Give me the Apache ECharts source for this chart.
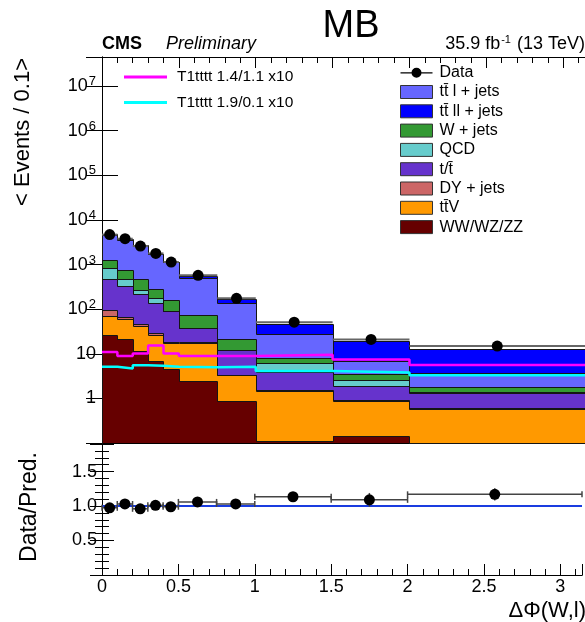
<!DOCTYPE html>
<html>
<head>
<meta charset="utf-8">
<script src="https://cdn.jsdelivr.net/npm/echarts@6/dist/echarts.min.js"></script>
<style>
html, body { margin: 0; padding: 0; background: #fff; }
#chart { width: 585px; height: 622px; }
</style>
</head>
<body>
<div id="chart"></div>
<script>
// bin edges of dPhi(W,l)
var binEdges = [0, 0.1, 0.2, 0.3, 0.4, 0.5, 0.75, 1, 1.5, 2, Math.PI];

// backgrounds, stacked bottom -> top
var wwWzZz   = [27, 21, 11.5, 6.9, 4.5, 2.4, 0.87, 0.11, 0.14, 0];
var ttV      = [43, 38, 30, 19, 13, 15, 2.4, 1.35, 0.73, 0.59];
var dyJets   = [24, 9, 6, 2.8, 0.8, 0.8, 0.1, 0.05, 0.03, 0.01];
var singleT  = [372, 262, 167, 106, 72, 20, 8.7, 2.3, 1.0, 0.74];
var qcd      = [385, 136, 54, 40, 2, 0.5, 0.1, 2.3, 0.68, 0.02];
var wJets    = [392, 275, 197, 103, 70, 37, 9.8, 2.1, 0.88, 0.47];
var ttLJets  = [3457, 2859, 2184, 1442, 958, 434, 118, 19, 3.45, 1.81];
var ttLLJets = [120, 90, 60, 40, 30, 35, 32, 18.4, 12.4, 9];

var dataCounts = [4700, 3800, 2600, 1780, 1140, 573, 175, 51, 21, 14.9];
var signal1411 = [11, 8.9, 10.2, 15.4, 10.2, 8.9, 8.9, 9.5, 7.4, 5.6];
var signal1901 = [5.1, 4.7, 5.5, 5.4, 5.1, 5.0, 5.1, 4.1, 3.8, 3.3];

var ratio    = [0.975, 1.03, 0.96, 1.01, 0.99, 1.06, 1.03, 1.135, 1.09, 1.17];
var ratioErr = [0.02, 0.02, 0.02, 0.025, 0.03, 0.04, 0.06, 0.06, 0.1, 0.09];

var F = 'Liberation Sans, Arial, Helvetica, sans-serif';
var yMin = 0.1, yMax = 4.5e7;

var centers = [];
for (var i = 0; i < binEdges.length - 1; i++) centers.push((binEdges[i] + binEdges[i + 1]) / 2);

var layers = [
    { name: 'WW/WZ/ZZ', values: wwWzZz, color: '#660000' },
    { name: 'tt\u0304V', values: ttV, color: '#ff9900' },
    { name: 'DY + jets', values: dyJets, color: '#cc6666' },
    { name: 't/t\u0304', values: singleT, color: '#6633cc' },
    { name: 'QCD', values: qcd, color: '#66cccc' },
    { name: 'W + jets', values: wJets, color: '#339933' },
    { name: 'tt\u0304 l + jets', values: ttLJets, color: '#6666ff' },
    { name: 'tt\u0304 ll + jets', values: ttLLJets, color: '#0000ff' }
];

var cum = centers.map(function () { return 0; });
layers.forEach(function (layer) {
    layer.items = layer.values.map(function (v, i) {
        var lo = cum[i];
        cum[i] += v;
        return [binEdges[i], binEdges[i + 1], Math.max(lo, yMin), Math.max(cum[i], yMin)];
    });
});

function stackRenderer(items) {
    return function (params, api) {
        var i = params.dataIndex;
        var it = items[i];
        var tl = api.coord([it[0], it[3]]);
        var br = api.coord([it[1], it[2]]);
        var prevTop = i > 0 ? items[i - 1][3] : yMin;
        var pp = api.coord([it[0], prevTop]);
        // snap to whole pixels so neighbouring bins and layers meet without seams
        var x0 = Math.round(tl[0]), x1 = Math.round(br[0]);
        var y0 = Math.round(tl[1]), y1 = Math.round(br[1]);
        var yp = Math.round(pp[1]);
        return {
            type: 'group',
            children: [
                { type: 'rect', z2: 0,
                  shape: { x: x0, y: y0, width: x1 - x0, height: y1 - y0 },
                  style: { fill: api.visual('color') } },
                { type: 'polyline', z2: 10,
                  shape: { points: [[x0 + 0.5, yp + 0.5], [x0 + 0.5, y0 + 0.5], [x1 + 0.5, y0 + 0.5]] },
                  style: { stroke: '#151515', lineWidth: 1, fill: 'none' } }
            ]
        };
    };
}

function stepData(values) {
    return binEdges.map(function (x, i) {
        return [x, values[Math.min(i, values.length - 1)]];
    });
}

var series = [];
layers.forEach(function (layer) {
    series.push({
        name: layer.name,
        type: 'custom',
        xAxisIndex: 0, yAxisIndex: 0,
        z: 2,
        itemStyle: { color: layer.color },
        encode: { x: [0, 1], y: [2, 3] },
        renderItem: stackRenderer(layer.items),
        data: layer.items
    });
});

series.push({
    name: 'T1tttt 1.4/1.1 x10', type: 'line', step: 'end', symbol: 'none',
    xAxisIndex: 0, yAxisIndex: 0, z: 3,
    itemStyle: { color: '#ff00ff' },
    lineStyle: { color: '#ff00ff', width: 2.5 },
    data: stepData(signal1411)
});
series.push({
    name: 'T1tttt 1.9/0.1 x10', type: 'line', step: 'end', symbol: 'none',
    xAxisIndex: 0, yAxisIndex: 0, z: 3,
    itemStyle: { color: '#00ffff' },
    lineStyle: { color: '#00ffff', width: 2.5 },
    data: stepData(signal1901)
});

series.push({
    name: 'Data', type: 'custom',
    xAxisIndex: 0, yAxisIndex: 0, z: 4,
    itemStyle: { color: '#000' },
    encode: { x: 0, y: 1 },
    renderItem: function (params, api) {
        var i = params.dataIndex;
        var c = api.coord([api.value(0), api.value(1)]);
        var l = api.coord([binEdges[i], api.value(1)]);
        var r = api.coord([binEdges[i + 1], api.value(1)]);
        return {
            type: 'group',
            children: [
                { type: 'line', shape: { x1: l[0], y1: l[1], x2: r[0], y2: r[1] },
                  style: { stroke: '#666', lineWidth: 2 } },
                { type: 'circle', shape: { cx: c[0], cy: c[1], r: 5.5 }, style: { fill: '#000' } }
            ]
        };
    },
    data: dataCounts.map(function (v, i) { return [centers[i], v]; })
});

series.push({
    name: 'unity', type: 'line', symbol: 'none',
    xAxisIndex: 2, yAxisIndex: 2, z: 2,
    lineStyle: { color: '#1a3ce0', width: 2 },
    data: [[0, 1], [Math.PI, 1]]
});

series.push({
    name: 'ratio', type: 'custom',
    xAxisIndex: 2, yAxisIndex: 2, z: 4,
    encode: { x: 0, y: 1 },
    renderItem: function (params, api) {
        var i = params.dataIndex;
        var v = api.value(1), e = api.value(2);
        var c = api.coord([api.value(0), v]);
        var l = api.coord([binEdges[i], v]);
        var r = api.coord([binEdges[i + 1], v]);
        var up = api.coord([api.value(0), v + e]);
        var dn = api.coord([api.value(0), v - e]);
        var st = { stroke: '#444', lineWidth: 1.5 };
        return {
            type: 'group',
            children: [
                { type: 'line', shape: { x1: l[0], y1: l[1], x2: r[0], y2: r[1] }, style: st },
                { type: 'line', shape: { x1: l[0], y1: l[1] - 3, x2: l[0], y2: l[1] + 3 }, style: st },
                { type: 'line', shape: { x1: r[0], y1: r[1] - 3, x2: r[0], y2: r[1] + 3 }, style: st },
                { type: 'line', shape: { x1: up[0], y1: up[1], x2: dn[0], y2: dn[1] }, style: st },
                { type: 'circle', shape: { cx: c[0], cy: c[1], r: 5.5 }, style: { fill: '#000' } }
            ]
        };
    },
    data: ratio.map(function (v, i) { return [centers[i], v, ratioErr[i]]; })
});

function xAxisCfg(grid, pos, labels) {
    return {
        type: 'value', gridIndex: grid, position: pos,
        min: 0, max: Math.PI, interval: 0.5,
        axisLine: { show: true, lineStyle: { color: '#000', width: 1 } },
        axisTick: { show: true, inside: true, length: 11, lineStyle: { color: '#000' } },
        minorTick: { show: true, splitNumber: 5, length: 6, lineStyle: { color: '#000' } },
        splitLine: { show: false },
        axisLabel: {
            show: labels, color: '#000', fontFamily: F, fontSize: 18, margin: 3,
            formatter: function (v) {
                return Math.abs(v * 2 - Math.round(v * 2)) < 1e-9 ? String(v) : '';
            }
        }
    };
}

function logAxisCfg(pos, labels) {
    return {
        type: 'log', gridIndex: 0, position: pos, logBase: 10,
        min: yMin, max: yMax, splitNumber: 8,
        axisLine: { show: true, lineStyle: { color: '#000', width: 1 } },
        axisTick: { show: true, inside: true, length: 16, lineStyle: { color: '#000' } },
        splitLine: { show: false },
        axisLabel: {
            show: labels, color: '#000', fontFamily: F, fontSize: 18, margin: 6,
            formatter: function (v) {
                var n = Math.round(Math.log10(v));
                if (Math.abs(Math.log10(v) - n) > 1e-6 || n < 0) return '';
                if (n === 0) return '1';
                if (n === 1) return '10';
                return '10{sup|' + n + '}';
            },
            rich: { sup: { fontFamily: F, fontSize: 13, color: '#000', verticalAlign: 'top', padding: [0, 0, 9, 1] } }
        }
    };
}

function ratioAxisCfg(pos, labels) {
    return {
        type: 'value', gridIndex: 1, position: pos,
        min: 0, max: 1.9, interval: 0.5,
        axisLine: { show: true, lineStyle: { color: '#000', width: 1 } },
        axisTick: { show: true, inside: true, length: 12, lineStyle: { color: '#000' } },
        minorTick: { show: true, splitNumber: 5, length: 7, lineStyle: { color: '#000' } },
        splitLine: { show: false },
        axisLabel: {
            show: labels, color: '#000', fontFamily: F, fontSize: 18, margin: 5,
            formatter: function (v) {
                return (v > 0.25 && Math.abs(v * 2 - Math.round(v * 2)) < 1e-9) ? v.toFixed(1) : '';
            }
        }
    };
}

var dataIcon = 'path://M0,0L0.01,0Z M0,13L0.01,13Z M0,6L32,6L32,7.3L0,7.3Z M11,6.5A5,5 0 1,1 21,6.5A5,5 0 1,1 11,6.5Z';

var bgLegend = [{ name: 'Data', icon: dataIcon, itemStyle: { color: '#000', borderWidth: 0 } }];
['tt\u0304 l + jets', 'tt\u0304 ll + jets', 'W + jets', 'QCD', 't/t\u0304', 'DY + jets', 'tt\u0304V', 'WW/WZ/ZZ']
    .forEach(function (n) {
        bgLegend.push({ name: n, icon: 'rect', itemStyle: { borderColor: '#333', borderWidth: 1 } });
    });

var chart = echarts.init(document.getElementById('chart'));
chart.setOption({
    animation: false,
    backgroundColor: '#fff',
    grid: [
        { left: 102, top: 57, width: 484, height: 386 },
        { left: 102, top: 444, width: 484, height: 131 }
    ],
    xAxis: [
        xAxisCfg(0, 'bottom', false),
        xAxisCfg(0, 'top', false),
        xAxisCfg(1, 'bottom', true),
        { type: 'value', gridIndex: 1, position: 'top', min: 0, max: Math.PI,
          axisLine: { lineStyle: { color: '#000' } }, axisTick: { show: false },
          axisLabel: { show: false }, splitLine: { show: false } }
    ],
    yAxis: [
        logAxisCfg('left', true),
        logAxisCfg('right', false),
        ratioAxisCfg('left', true),
        ratioAxisCfg('right', false)
    ],
    legend: [
        {
            orient: 'vertical', left: 124, top: 69, padding: 0,
            itemWidth: 43, itemHeight: 3, itemGap: 9.5, selectedMode: false,
            textStyle: { fontFamily: F, fontSize: 15.5, color: '#000', padding: [0, 0, 0, 5] },
            data: [
                { name: 'T1tttt 1.4/1.1 x10', icon: 'rect' },
                { name: 'T1tttt 1.9/0.1 x10', icon: 'rect' }
            ]
        },
        {
            orient: 'vertical', left: 400, top: 64.7, padding: 0,
            itemWidth: 32, itemHeight: 13, itemGap: 3.3, selectedMode: false,
            textStyle: { fontFamily: F, fontSize: 16, color: '#000', padding: [0, 0, 0, 2] },
            data: bgLegend
        }
    ],
    graphic: [
        { type: 'text', x: 351, y: 27, style: { text: 'MB', font: '38px ' + F, fill: '#000', align: 'center', verticalAlign: 'middle' } },
        { type: 'text', x: 102, y: 44, style: { text: 'CMS', font: 'bold 18px ' + F, fill: '#000', align: 'left', verticalAlign: 'middle' } },
        { type: 'text', x: 166, y: 44, style: { text: 'Preliminary', font: 'italic 18px ' + F, fill: '#000', align: 'left', verticalAlign: 'middle' } },
        { type: 'text', x: 585, y: 44, style: {
            text: '35.9 fb{sup|-1} (13 TeV)', font: '18px ' + F, fill: '#000', align: 'right', verticalAlign: 'middle',
            rich: { sup: { fontFamily: F, fontSize: 11, fill: '#000', verticalAlign: 'top', padding: [0, 1, 9, 1] } } } },
        { type: 'text', x: 23, y: 132, rotation: Math.PI / 2, style: { text: '< Events / 0.1>', font: '22px ' + F, fill: '#000', align: 'center', verticalAlign: 'middle' } },
        { type: 'text', x: 30, y: 507, rotation: Math.PI / 2, style: { text: 'Data/Pred.', font: '23px ' + F, fill: '#000', align: 'center', verticalAlign: 'middle' } },
        { type: 'text', x: 586, y: 611, style: { text: '\u0394\u03a6(W,l)', font: '22px ' + F, fill: '#000', align: 'right', verticalAlign: 'middle' } }
    ],
    series: series
});
</script>
</body>
</html>
